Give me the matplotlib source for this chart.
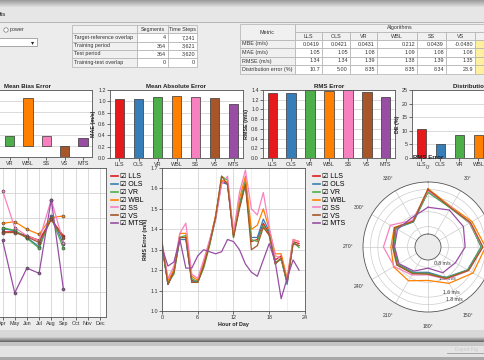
import numpy as np
import matplotlib
matplotlib.use("Agg")
import matplotlib.pyplot as plt
from matplotlib.patches import Rectangle
from matplotlib.lines import Line2D
from matplotlib.text import Text

plt.rcParams['font.family'] = ['Liberation Sans', 'DejaVu Sans']

# ---------------- data ----------------
algos = ["LLS", "OLS", "VR", "WBL", "SS", "VS", "MTS"]
colors = ["#e41a1c", "#377eb8", "#4daf4a", "#ff7f00", "#f781bf", "#a65628", "#984ea3"]

mbe = [0.0419, 0.0421, 0.0431, 0.212, 0.0439, -0.0480, 0.035]
mae = [1.05, 1.05, 1.08, 1.09, 1.08, 1.06, 0.95]
rmse = [1.34, 1.34, 1.39, 1.38, 1.39, 1.35, 1.26]
dist_err = [10.7, 5.00, 8.35, 8.35, 8.34, 23.9, 15.0]

tbl1_rows = ["Target-reference overlap", "Training period", "Test period", "Training-test overlap"]
tbl1_cols = ["Segments", "Time Steps"]
tbl1_segments = ["4", "364", "364", "0"]
tbl1_steps = ["7,241", "3,621", "3,620", "0"]

tbl2_rows = ["MBE (m/s)", "MAE (m/s)", "RMSE (m/s)", "Distribution error (%)"]
tbl2_algos = ["LLS", "OLS", "VR", "WBL", "SS", "VS"]
tbl2_vals = [
    ["0.0419", "0.0421", "0.0431", "0.212", "0.0439", "-0.0480"],
    ["1.05", "1.05", "1.08", "1.09", "1.08", "1.06"],
    ["1.34", "1.34", "1.39", "1.38", "1.39", "1.35"],
    ["10.7", "5.00", "8.35", "8.35", "8.34", "23.9"],
]

months = ["Jan", "Feb", "Mar", "Apr", "May", "Jun", "Jul", "Aug", "Sep", "Oct", "Nov", "Dec"]
month_idx = [4, 5, 6, 7, 8, 9]
monthly = {
    "LLS": [1.343, 1.343, 1.327, 1.309, 1.393, 1.327],
    "OLS": [1.356, 1.347, 1.320, 1.283, 1.407, 1.293],
    "VR":  [1.360, 1.349, 1.317, 1.277, 1.400, 1.277],
    "WBL": [1.377, 1.384, 1.353, 1.333, 1.400, 1.407],
    "SS":  [1.509, 1.360, 1.327, 1.307, 1.473, 1.300],
    "VS":  [1.340, 1.340, 1.323, 1.300, 1.393, 1.317],
    "MTS": [1.309, 1.097, 1.197, 1.176, 1.473, 1.111],
}

hours = list(range(24))
hourly = {
    "LLS": [1.33,1.13,1.20,1.36,1.36,1.15,1.14,1.23,1.34,1.46,1.64,1.62,1.37,1.52,1.63,1.34,1.35,1.43,1.38,1.25,1.27,1.14,1.34,1.33],
    "OLS": [1.32,1.13,1.19,1.35,1.35,1.14,1.15,1.22,1.33,1.45,1.63,1.62,1.37,1.51,1.62,1.36,1.36,1.45,1.39,1.23,1.26,1.13,1.33,1.32],
    "VR":  [1.31,1.14,1.18,1.36,1.37,1.16,1.14,1.21,1.32,1.46,1.66,1.64,1.36,1.52,1.64,1.35,1.34,1.42,1.37,1.24,1.25,1.14,1.34,1.31],
    "WBL": [1.34,1.15,1.20,1.38,1.38,1.17,1.15,1.24,1.34,1.47,1.64,1.63,1.38,1.55,1.66,1.40,1.42,1.50,1.40,1.28,1.28,1.16,1.35,1.34],
    "SS":  [1.34,1.16,1.22,1.38,1.43,1.18,1.16,1.25,1.35,1.45,1.62,1.66,1.38,1.58,1.69,1.50,1.47,1.58,1.41,1.27,1.26,1.15,1.35,1.34],
    "VS":  [1.33,1.13,1.19,1.36,1.36,1.14,1.14,1.22,1.33,1.46,1.66,1.62,1.36,1.50,1.62,1.30,1.32,1.41,1.37,1.23,1.26,1.14,1.33,1.32],
    "MTS": [1.31,1.22,1.24,1.35,1.21,1.21,1.27,1.30,1.29,1.28,1.29,1.35,1.34,1.30,1.23,1.19,1.17,1.25,1.33,1.24,1.06,1.16,1.25,1.20],
}

directions = list(range(0, 360, 30))
polar_rmse = {
    "LLS": [1.78, 1.48, 1.55, 1.70, 1.50, 1.22, 0.95, 1.05, 1.20, 1.18, 1.27, 1.05],
    "OLS": [1.74, 1.47, 1.56, 1.68, 1.48, 1.20, 0.93, 1.04, 1.18, 1.16, 1.25, 1.03],
    "VR":  [1.72, 1.46, 1.54, 1.69, 1.49, 1.21, 0.96, 1.06, 1.19, 1.17, 1.26, 1.04],
    "WBL": [1.82, 1.50, 1.62, 1.80, 1.65, 1.38, 1.15, 1.30, 1.32, 1.25, 1.30, 1.06],
    "SS":  [1.76, 1.49, 1.55, 1.72, 1.52, 1.25, 1.00, 1.12, 1.30, 1.45, 1.42, 1.08],
    "VS":  [1.80, 1.47, 1.57, 1.73, 1.51, 1.23, 0.98, 1.08, 1.22, 1.20, 1.29, 1.05],
    "MTS": [1.32, 1.40, 1.35, 1.25, 1.10, 1.05, 0.82, 1.00, 1.15, 1.15, 1.20, 1.15],
}
polar_rticks = [0.8, 1.2, 1.6, 1.8]

# ---------------- layout ----------------
W, H = 485, 360
BG = "#ececec"
GRID = "#cccccc"
fig = plt.figure(figsize=(W / 100, H / 100), dpi=100, facecolor=BG)


def box(l, t, r, b):
    return [l / W, 1 - b / H, (r - l) / W, (b - t) / H]


bg = fig.add_axes([0, 0, 1, 1], zorder=-5)
bg.set_xlim(0, W)
bg.set_ylim(H, 0)
bg.axis("off")


def rect(x0, y0, x1, y1, fc, ec="none", lw=0.5, ax=bg):
    ax.add_patch(Rectangle((x0, y0), x1 - x0, y1 - y0, facecolor=fc, edgecolor=ec, lw=lw))


# top chrome
grad = np.linspace(0.62, 0.90, 8)
for i, g in enumerate(grad):
    rect(0, i, W, i + 1.05, (g, g, g))
rect(0, 8, W, 22, "#e6e6e6")
bg.plot([0, W], [22, 22], color="#b5b5b5", lw=0.7)
bg.text(0, 15, "lts", fontsize=4.5, va="center", ha="left", color="#222")

# radio + dropdown
bg.add_patch(plt.Circle((6, 30), 2.2, facecolor="white", edgecolor="#777", lw=0.5))
bg.text(10, 30, "power", fontsize=3.9, va="center", color="#333")
rect(-1, 38, 37, 46, "white", "#8a8a8a")
bg.text(33, 42.3, "▾", fontsize=4.5, ha="center", va="center", color="#222")

CELL_EC = "#b0b0b0"
HDR = "#f0f0f0"
FS = 3.9

# table 1
t1x = [72, 137, 168, 197]
t1y = [25, 33, 42, 50, 58, 67]
rect(t1x[0], t1y[0], t1x[1], t1y[1], HDR, CELL_EC)
for j, c in enumerate(tbl1_cols):
    rect(t1x[j + 1], t1y[0], t1x[j + 2], t1y[1], HDR, CELL_EC)
    bg.text((t1x[j + 1] + t1x[j + 2]) / 2, (t1y[0] + t1y[1]) / 2, c, fontsize=FS,
            ha="center", va="center", color="#333")
for i, lab in enumerate(tbl1_rows):
    y0, y1 = t1y[i + 1], t1y[i + 2]
    rect(t1x[0], y0, t1x[1], y1, HDR, CELL_EC)
    bg.text(t1x[0] + 2, (y0 + y1) / 2, lab, fontsize=FS, ha="left", va="center", color="#333")
    for j, v in enumerate([tbl1_segments[i], tbl1_steps[i]]):
        rect(t1x[j + 1], y0, t1x[j + 2], y1, "white", CELL_EC)
        bg.text(t1x[j + 2] - 2, (y0 + y1) / 2, v, fontsize=FS, ha="right", va="center", color="#333")

# table 2
t2x = [240, 295, 322, 350, 377, 417, 446, 475, 505]
t2y = [24, 32, 40, 48, 57, 65, 74]
rect(t2x[0], t2y[0], t2x[1], t2y[2], HDR, CELL_EC)
bg.text((t2x[0] + t2x[1]) / 2, (t2y[0] + t2y[2]) / 2, "Metric", fontsize=FS,
        ha="center", va="center", color="#333")
rect(t2x[1], t2y[0], t2x[-1], t2y[1], HDR, CELL_EC)
bg.text((t2x[1] + t2x[-1]) / 2, (t2y[0] + t2y[1]) / 2, "Algorithms", fontsize=FS,
        ha="center", va="center", color="#333")
for j, a in enumerate(tbl2_algos):
    rect(t2x[j + 1], t2y[1], t2x[j + 2], t2y[2], HDR, CELL_EC)
    bg.text((t2x[j + 1] + t2x[j + 2]) / 2, (t2y[1] + t2y[2]) / 2, a, fontsize=FS,
            ha="center", va="center", color="#333")
rect(t2x[-2], t2y[1], t2x[-1], t2y[2], HDR, CELL_EC)
for i, lab in enumerate(tbl2_rows):
    y0, y1 = t2y[i + 2], t2y[i + 3]
    rect(t2x[0], y0, t2x[1], y1, HDR, CELL_EC)
    bg.text(t2x[0] + 2, (y0 + y1) / 2, lab, fontsize=FS, ha="left", va="center", color="#333")
    for j, v in enumerate(tbl2_vals[i]):
        rect(t2x[j + 1], y0, t2x[j + 2], y1, "white", CELL_EC)
        bg.text(t2x[j + 2] - 2, (y0 + y1) / 2, v, fontsize=FS, ha="right", va="center", color="#333")
    rect(t2x[-2], y0, t2x[-1], y1, "#fff0a0", CELL_EC)

# bottom chrome
rect(0, 330, W, 337, "#d8d8d8")
g2 = np.linspace(0.78, 0.42, 5)
for i, g in enumerate(g2):
    rect(0, 337 + i, W, 338.05 + i, (g, g, g))
rect(0, 342, W, 346, "#c4c4c4")
rect(0, 346, W, 357, "#e4e4e4")
rect(0, 357, W, 360, "#a8a8a8")
bg.text(478, 349, "Export Fig", fontsize=3.6, ha="right", va="center", color="#c8c8c8")
bg.plot([447, W], [353, 353], color="#9a9a9a", lw=0.6)


def style_ax(ax):
    ax.set_facecolor("white")
    for s in ax.spines.values():
        s.set_color("#555555")
        s.set_linewidth(0.6)
    ax.tick_params(labelsize=3.9, length=2, width=0.5, pad=1, colors="#333")
    ax.set_axisbelow(True)


TITLE_KW = dict(fontsize=4.4, fontweight="bold", pad=1.5, color="#222")
LBL_KW = dict(fontsize=3.9, fontweight="bold", color="#222", labelpad=1.5)


def bar_panel(pos, vals, title, ylim, yticks, ylabel=None):
    ax = fig.add_axes(box(*pos))
    style_ax(ax)
    x = np.arange(len(algos))
    ax.bar(x, vals, width=0.52, color=colors, edgecolor="#333", linewidth=0.5)
    ax.set_xlim(-0.5, len(algos) - 0.5)
    ax.set_ylim(*ylim)
    ax.set_yticks(yticks)
    ax.set_xticks(x)
    ax.set_xticklabels(algos)
    ax.yaxis.grid(True, color=GRID, lw=0.5)
    ax.set_title(title, **TITLE_KW)
    if ylabel:
        ax.set_ylabel(ylabel, **LBL_KW)
    return ax


ax_mbe = bar_panel((-36, 90, 92, 157), mbe, "Mean Bias Error", (-0.05, 0.25),
                   np.arange(-0.05, 0.2501, 0.05))
ax_mae = bar_panel((110, 90, 243, 158), mae, "Mean Absolute Error", (0, 1.2),
                   np.arange(0, 1.21, 0.2), "MAE (m/s)")
ax_mae.set_yticklabels([f"{v:.1f}" for v in np.arange(0, 1.21, 0.2)])
ax_rmse = bar_panel((263, 90, 395, 158), rmse, "RMS Error", (0, 1.4),
                    np.arange(0, 1.41, 0.2), "RMSE (m/s)")
ax_rmse.set_yticklabels([f"{v:.1f}" for v in np.arange(0, 1.41, 0.2)])
ax_de = bar_panel((412, 90, 545, 158), dist_err, "Distribution Error", (0, 25),
                  np.arange(0, 26, 5), "DE (%)")

# monthly line chart
ax_m = fig.add_axes(box(-40, 168, 106, 317))
style_ax(ax_m)
for a, c in zip(algos, colors):
    ax_m.plot(month_idx, monthly[a], color=c, lw=0.9, marker="o", ms=2.2,
              mfc=c, mec="#444", mew=0.4)
ax_m.set_xlim(0.5, 12.5)
ax_m.set_ylim(1.0, 1.6)
ax_m.set_xticks(range(1, 13))
ax_m.set_xticklabels(months)
ax_m.set_yticks(np.arange(1.0, 1.61, 0.1))
ax_m.grid(True, color=GRID, lw=0.5)

handles = [Line2D([], [], color=c, lw=1.2) for c in colors]
labels = ["☑ " + a for a in algos]
leg_kw = dict(frameon=False, fontsize=5, handlelength=0.9, handletextpad=0.3,
              labelspacing=0.12, borderpad=0, loc="upper left")
fig.legend(handles, labels, bbox_to_anchor=(108 / W, 1 - 170 / H), **leg_kw)
fig.legend(handles, labels, bbox_to_anchor=(310 / W, 1 - 170 / H), **leg_kw)

# hourly line chart
ax_h = fig.add_axes(box(162, 168, 305, 311))
style_ax(ax_h)
for a, c in zip(algos, colors):
    ax_h.plot(hours, hourly[a], color=c, lw=0.9)
ax_h.set_xlim(0, 24)
ax_h.set_ylim(1.0, 1.7)
ax_h.set_xticks([0, 6, 12, 18, 24])
ax_h.set_xticks(range(0, 25, 3), minor=True)
ax_h.set_yticks(np.arange(1.0, 1.71, 0.1))
ax_h.set_yticklabels([f"{v:.1f}" for v in np.arange(1.0, 1.71, 0.1)])
ax_h.grid(True, which="major", color=GRID, lw=0.5)
ax_h.grid(True, which="minor", axis="x", color="#e4e4e4", lw=0.4)
ax_h.tick_params(which="minor", length=0)
ax_h.set_xlabel("Hour of Day", **LBL_KW)
ax_h.set_ylabel("RMS Error (m/s)", **LBL_KW)

# polar chart
ax_p = fig.add_axes(box(363, 182, 493, 312), projection="polar")
ax_p.set_facecolor("white")
ax_p.set_theta_zero_location("N")
ax_p.set_theta_direction(-1)
theta = np.deg2rad(directions + [directions[0]])
for a, c in zip(algos, colors):
    vals = polar_rmse[a] + [polar_rmse[a][0]]
    ax_p.plot(theta, vals, color=c, lw=0.9)
ax_p.set_rlim(0.6, 2.0)
ax_p.set_rorigin(0.25)
ax_p.set_rticks(polar_rticks)
ax_p.set_yticklabels([f"{v:.1f} m/s" for v in polar_rticks])
ax_p.set_rlabel_position(162)
ax_p.set_thetagrids(directions, [f"{d}°" for d in directions])
ax_p.tick_params(labelsize=3.7, pad=0, colors="#333")
ax_p.grid(True, color=GRID, lw=0.5)
for s in ax_p.spines.values():
    s.set_color("#555")
    s.set_linewidth(0.6)
ax_p.set_title("RMS Error", fontsize=4.4, fontweight="bold", pad=4, color="#222")

# hide texts lying completely outside the visible window (as in the cropped screenshot)
fig.canvas.draw()
renderer = fig.canvas.get_renderer()
for t in fig.findobj(Text):
    if not t.get_visible() or not t.get_text():
        continue
    bb = t.get_window_extent(renderer)
    if bb.x1 <= 0 or bb.x0 >= W or bb.y1 <= 0 or bb.y0 >= H:
        t.set_visible(False)

fig.savefig("out.png", dpi=100, facecolor=BG)
